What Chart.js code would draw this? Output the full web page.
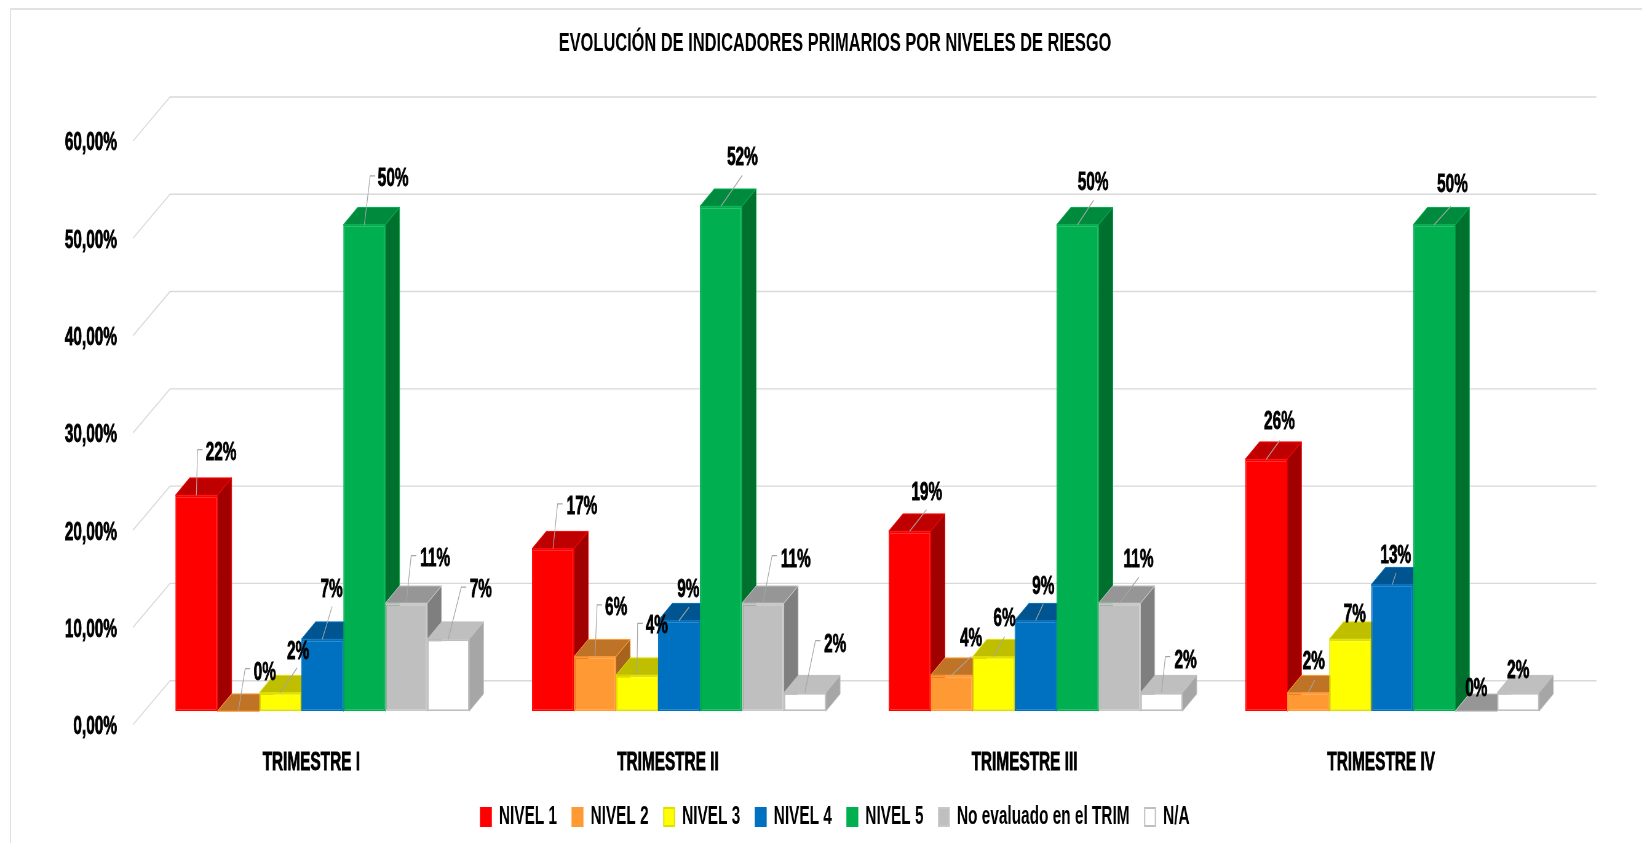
<!DOCTYPE html>
<html>
<head>
<meta charset="utf-8">
<title>Indicadores primarios</title>
<script src="https://cdn.jsdelivr.net/npm/chart.js@4/dist/chart.umd.min.js"></script>
<style>
html, body { margin: 0; padding: 0; background: #fff; overflow: hidden; }
/* the original text is condensed sideways and a little soft, so the whole canvas gets the same */
#chart { position: absolute; left: 0; top: 0; transform-origin: 0 0; transform: scaleX(0.615); filter: blur(0.4px); }
</style>
</head>
<body>
<canvas id="chart" width="2670" height="843"></canvas>
<script>
const chartTitle = 'EVOLUCIÓN DE INDICADORES PRIMARIOS POR NIVELES DE RIESGO';
const trimestres = ['TRIMESTRE I', 'TRIMESTRE II', 'TRIMESTRE III', 'TRIMESTRE IV'];
const seriesNames = ['NIVEL 1', 'NIVEL 2', 'NIVEL 3', 'NIVEL 4', 'NIVEL 5', 'No evaluado en el TRIM', 'N/A'];

const nivel1 = [22.2, 16.7, 18.5, 25.9];
const nivel2 = [0, 5.6, 3.7, 1.9];
const nivel3 = [1.9, 3.7, 5.6, 7.4];
const nivel4 = [7.4, 9.3, 9.3, 13];
const nivel5 = [50, 51.9, 50, 50];
const noEvaluado = [11.1, 11.1, 11.1, 0];
const noAplica = [7.4, 1.9, 1.9, 1.9];
const seriesValues = [nivel1, nivel2, nivel3, nivel4, nivel5, noEvaluado, noAplica];

const frontColors = ['#FF0000', '#FF9933', '#FFFF00', '#0070C0', '#00B050', '#BFBFBF', '#FFFFFF'];
const topColors = ['#BF0000', '#BF7326', '#BFBF00', '#00548F', '#008A3E', '#969696', '#BFBFBF'];
const sideColors = ['#A00000', '#A5631F', '#A0A000', '#004A80', '#00702F', '#7F7F7F', '#A6A6A6'];
const edgeColors = ['#FF0000', '#FF9933', '#E0E000', '#0070C0', '#00B050', '#C8C8C8', '#BFBFBF'];

// label position for each bar relative to its top: [labelDx, labelDy, tipDx, tipDy, elbow]
const labelSpots = [
  [[24.7, -44, 1.2, -45.7, 1], [29, -43.2, 4.6, -44.9, 1], [17.2, -39.7, 16.9, -21.4, 0], [13.2, -38.8, 13.5, -18.8, 0]],
  [[26.5, -39.8, 6.8, -42.5, 1], [21.2, -50.4, 2.1, -51.8, 1], [19.5, -37.8, 19.7, -18.8, 0], [5.6, -32.7, 6.6, -12.7, 0]],
  [[17.8, -43, 16.8, -25, 0], [19.9, -51.2, 0.7, -51.8, 1], [11, -39.4, 11, -20.1, 0], [4.6, -26.3]],
  [[9.3, -50.9, 9.8, -32.6, 0], [9.4, -32.4, 10.1, -13.4, 0], [7.7, -35.8, 7.7, -16.8, 0], [3.6, -30.8, 3.9, -11.8, 0]],
  [[28.9, -47.5, 5.9, -49, 1], [21.5, -50, 21.5, -31, 0], [15.6, -43.5, 16.1, -24.5, 0], [18.3, -41.5, 16.7, -18.5, 0]],
  [[28.9, -45.9, 4.9, -47.6, 1], [32.8, -45.3, 9.2, -47.6, 1], [19.1, -45.3, 19.4, -25.9, 0], [0.2, -23.8]],
  [[32.5, -50.9, 13, -52, 1], [30.3, -49.7, 10.6, -52, 1], [24.2, -33.7, 3.9, -36, 1], [0.1, -23.7]]
];

const SQ = 0.615;           // horizontal squeeze of the canvas
const FONT = '"Liberation Sans", sans-serif';
const wallDx = 37 / SQ, wallDy = 44;    // floor depth
const barDx = 11 / SQ, barDy = 13.5;    // bars stand a bit behind the front edge
const depthDx = 14.3 / SQ, depthDy = 17.3;  // depth of one bar
const labelNudge = 2;       // text middle sits above the digits' middle
const GRID = '#D9D9D9';

function poly(ctx, pts, fill, stroke) {
  ctx.beginPath();
  pts.forEach((p, i) => i ? ctx.lineTo(p[0], p[1]) : ctx.moveTo(p[0], p[1]));
  ctx.closePath();
  ctx.fillStyle = fill;
  ctx.fill();
  ctx.strokeStyle = stroke;
  ctx.lineWidth = 1;
  ctx.stroke();
}

const bars3d = {
  id: 'bars3d',
  beforeDraw(chart) {
    const ctx = chart.ctx;
    ctx.save();
    ctx.strokeStyle = GRID;
    ctx.lineWidth = 1.5;
    ctx.beginPath();
    ctx.moveTo(10.5 / SQ, chart.height);
    ctx.lineTo(10.5 / SQ, 9);
    ctx.lineTo(chart.width, 9);
    ctx.stroke();
    ctx.restore();
  },
  beforeDatasetsDraw(chart) {
    const ctx = chart.ctx, yScale = chart.scales.y, area = chart.chartArea;
    ctx.save();
    ctx.strokeStyle = GRID;
    ctx.lineWidth = 1.4;
    yScale.ticks.forEach(t => {
      const y = yScale.getPixelForValue(t.value);
      ctx.beginPath();
      ctx.moveTo(area.left, y);
      ctx.lineTo(area.left + wallDx, y - wallDy);
      ctx.lineTo(area.right + wallDx, y - wallDy);
      ctx.stroke();
    });
    // everything the datasets draw goes one step back on the floor
    ctx.translate(barDx, -barDy);
    chart.data.datasets.forEach((ds, i) => {
      chart.getDatasetMeta(i).data.forEach(bar => {
        const r = bar.x + bar.width / 2, l = bar.x - bar.width / 2;
        const y = bar.y, b = bar.base;
        poly(ctx, [[l, y], [r, y], [r + depthDx, y - depthDy], [l + depthDx, y - depthDy]], topColors[i], edgeColors[i]);
        poly(ctx, [[r, y], [r + depthDx, y - depthDy], [r + depthDx, b - depthDy], [r, b]], sideColors[i], edgeColors[i]);
      });
    });
  },
  afterDatasetsDraw(chart) {
    const ctx = chart.ctx;
    chart.data.datasets.forEach((ds, i) => {
      chart.getDatasetMeta(i).data.forEach((bar, j) => {
        const s = labelSpots[i][j];
        if (s.length > 2) {
          ctx.beginPath();
          ctx.strokeStyle = '#A6A6A6';
          ctx.lineWidth = 1.2;
          ctx.moveTo(bar.x, bar.y);
          ctx.lineTo(bar.x + s[2] / SQ, bar.y + s[3]);
          if (s[4]) ctx.lineTo(bar.x + (s[2] + 5) / SQ, bar.y + s[3]);
          ctx.stroke();
        }
        const txt = Math.round(ds.data[j]) + '%';
        ctx.fillStyle = '#000';
        ctx.strokeStyle = '#000';
        ctx.lineWidth = 0.8;
        ctx.font = 'bold 25px ' + FONT;
        ctx.textAlign = 'center';
        ctx.textBaseline = 'middle';
        ctx.fillText(txt, bar.x + s[0] / SQ, bar.y + s[1] + labelNudge);
        ctx.strokeText(txt, bar.x + s[0] / SQ, bar.y + s[1] + labelNudge);
      });
    });
    ctx.restore();
  }
};

new Chart(document.getElementById('chart'), {
  type: 'bar',
  data: {
    labels: trimestres,
    datasets: seriesNames.map((name, i) => ({
      label: name,
      data: seriesValues[i],
      backgroundColor: frontColors[i],
      borderColor: edgeColors[i],
      borderWidth: 2,
      borderSkipped: false,
      categoryPercentage: 0.824,
      barPercentage: 1
    }))
  },
  options: {
    responsive: false,
    animation: false,
    layout: { padding: { left: 50 / SQ, right: 22 / SQ, top: 0, bottom: 3.4 } },
    scales: {
      x: {
        grid: { display: false },
        border: { display: false },
        ticks: {
          color: '#000',
          padding: 15.4,
          font: { family: FONT, size: 25, weight: 'bold' },
          maxRotation: 0,
          textStrokeColor: '#000',
          textStrokeWidth: 0.8
        },
        afterFit(scale) { scale.height = 55.3; }
      },
      y: {
        min: 0,
        max: 60,
        grid: { display: false, drawTicks: false },
        border: { display: false },
        ticks: {
          stepSize: 10,
          color: '#000',
          padding: 16 / SQ,
          font: { family: FONT, size: 25, weight: 'bold', lineHeight: '5px' },
          textStrokeColor: '#000',
          textStrokeWidth: 0.8,
          // empty first line with a small line height moves the text down a little
          callback: v => ['', v.toFixed(2).replace('.', ',') + '%']
        },
        afterFit(scale) { scale.width = 83 / SQ; }
      },
      // empty axis, it only keeps the room right of the plot that the back wall runs into
      spare: {
        position: 'right',
        grid: { display: false },
        border: { display: false },
        ticks: { display: false },
        afterFit(scale) { scale.width = 60.6 / SQ; }
      }
    },
    plugins: {
      title: {
        display: true,
        text: chartTitle,
        color: '#000',
        font: { family: FONT, size: 26.7, weight: 'bold', lineHeight: 1 },
        padding: { top: 30, bottom: 84.3 }
      },
      legend: {
        position: 'bottom',
        labels: {
          color: '#000',
          font: { family: FONT, size: 25, weight: 'bold' },
          boxWidth: 10.7 / SQ,
          boxHeight: 18,
          padding: 24.6
        }
      },
      tooltip: { enabled: false }
    }
  },
  plugins: [bars3d]
});
</script>
</body>
</html>
